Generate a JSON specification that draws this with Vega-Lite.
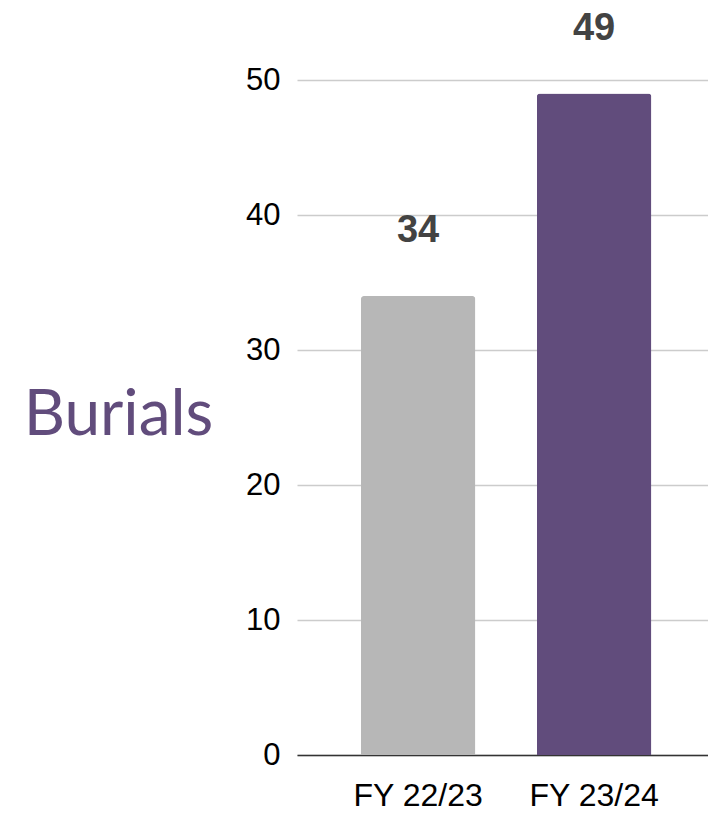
{
  "$schema": "https://vega.github.io/schema/vega-lite/v6.json",
  "width": 411,
  "height": 675,
  "autosize": {"type": "none"},
  "padding": {"left": 297, "top": 80, "right": 0, "bottom": 58},
  "background": "white",
  "config": {"view": {"stroke": null}},
  "data": {"values": [
    {"year": "FY 22/23", "burials": 34, "color": "#b7b7b7"},
    {"year": "FY 23/24", "burials": 49, "color": "#614c7c"}
  ]},
  "encoding": {
    "x": {
      "field": "year", "type": "nominal", "sort": null,
      "scale": {"paddingInner": 0.35, "paddingOuter": 0.3426, "align": 0.53},
      "axis": {"title": null, "labelAngle": 0, "labelFont": "Liberation Sans", "labelFontSize": 32, "labelColor": "#000", "labelPadding": 25, "ticks": false, "domainColor": "#333", "domainWidth": 1.5}
    },
    "y": {
      "field": "burials", "type": "quantitative",
      "scale": {"domain": [0, 50]},
      "axis": {"values": [0, 10, 20, 30, 40, 50], "title": "Burials", "titleAngle": 0, "titleFont": "Lato", "titleFontWeight": "normal", "titleFontSize": 64, "titleColor": "#614c7c", "titleAlign": "center", "titleBaseline": "middle", "titleX": -179, "titleY": 335, "labelFont": "Liberation Sans", "labelFontSize": 31, "labelColor": "#000", "labelPadding": 17, "ticks": false, "domain": false, "gridColor": "#cccccc", "gridWidth": 1.5}
    }
  },
  "layer": [
    {"mark": {"type": "bar", "cornerRadiusTopLeft": 3, "cornerRadiusTopRight": 3},
     "encoding": {"color": {"field": "color", "type": "nominal", "scale": null}}},
    {"mark": {"type": "text", "dy": -54, "baseline": "alphabetic", "font": "Liberation Sans", "fontWeight": "bold", "fontSize": 38, "color": "#434343"},
     "encoding": {"text": {"field": "burials", "type": "quantitative"}}}
  ]
}
